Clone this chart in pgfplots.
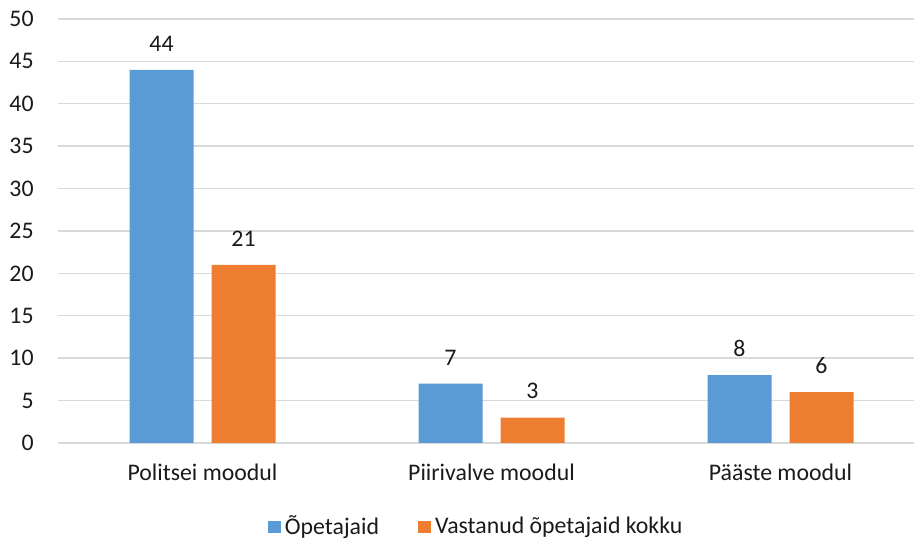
\documentclass[border=0pt]{standalone}
\usepackage{pgfplots}
\pgfplotsset{compat=1.18}
\usepackage{fontspec}
\setmainfont{Carlito}
\definecolor{cblue}{HTML}{5B9BD5}
\definecolor{corange}{HTML}{ED7D31}
\definecolor{cgrid}{HTML}{D9D9D9}
\definecolor{ctext}{HTML}{1A1A1A}
\begin{document}
\begin{tikzpicture}
\path[use as bounding box] (0,0) rectangle (457pt,269.5pt);
\begin{axis}[
  at={(29pt,48pt)}, anchor=south west,
  scale only axis, width=428pt, height=212pt,
  font=\fontsize{11.9}{14}\selectfont\color{ctext},
  /pgf/number format/assume math mode=true,
  ybar=9pt, bar width=32pt,
  xmin=-0.5, xmax=2.462, ymin=0, ymax=50,
  xtick={0,1,2}, xticklabels={Politsei moodul, Piirivalve moodul, Pääste moodul},
  ytick={0,5,...,50},
  ymajorgrids, grid style={cgrid, line width=0.7pt},
  axis line style={draw=none},
  major tick length=0pt,
  yticklabel style={anchor=east, inner sep=0pt, xshift=-12pt},
  xticklabel style={anchor=base, inner sep=0pt, yshift=-19pt},
  nodes near coords,
  nodes near coords style={anchor=south, inner sep=0pt, yshift=9pt, font=\fontsize{11.9}{14}\selectfont\color{ctext}},
  legend style={draw=none, at={(axis description cs:0.2453,-0.198)}, anchor=west, inner sep=0pt, outer sep=0pt,
    legend columns=2, font=\fontsize{11.9}{14}\selectfont\color{ctext},
    /tikz/every even column/.append style={column sep=17.5pt}},
  legend cell align=left,
]
\addplot[draw=none, fill=cblue, legend image code/.code={\fill[cblue] (0pt,-3.2pt) rectangle (6.5pt,3.2pt);}] coordinates {(0,44) (1,7) (2,8)};
\addplot[draw=none, fill=corange, legend image code/.code={\fill[corange] (0pt,-3.2pt) rectangle (6.5pt,3.2pt);}] coordinates {(0,21) (1,3) (2,6)};
\legend{Õpetajaid, Vastanud õpetajaid kokku}
\end{axis}
\end{tikzpicture}
\end{document}
